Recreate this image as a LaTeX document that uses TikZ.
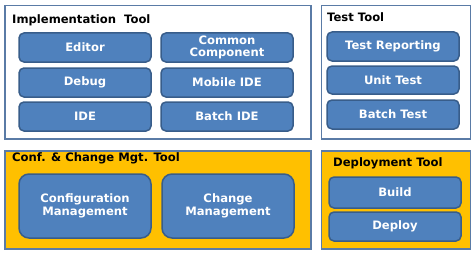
\documentclass[tikz,border=0pt]{standalone}
\usepackage{fontspec}
\setmainfont{DejaVu Sans}
\usetikzlibrary{positioning}
\definecolor{toolblue}{HTML}{4F81BD}
\definecolor{toolline}{HTML}{385D8A}
\definecolor{framebd}{HTML}{5A7BA6}
\definecolor{mgtyellow}{HTML}{FFC000}
\begin{document}
\begin{tikzpicture}[
    x=1pt, y=-1pt,
    node distance=5pt and 10pt,
    toolframe/.style={draw=framebd, line width=1.5pt, anchor=north west, inner sep=0pt},
    frametitle/.style={anchor=west, inner sep=0pt, font=\bfseries\fontsize{11.6}{12}\selectfont},
    toolbox/.style={draw=toolline, fill=toolblue, line width=1.5pt, rounded corners=5pt, text=white, align=center, inner sep=0pt, outer sep=0pt, minimum width=132pt, minimum height=29pt, font=\bfseries\fontsize{11.6}{12.5}\selectfont}
]
\useasboundingbox (0,0) rectangle (473,254);
% frames
\node[toolframe, minimum width=306pt, minimum height=133pt] (impl) at (4,5) {};
\node[toolframe, minimum width=149pt, minimum height=133pt] (test) at (320.5,5) {};
\node[toolframe, fill=mgtyellow, minimum width=306pt, minimum height=98pt] (conf) at (4,150) {};
\node[toolframe, fill=mgtyellow, minimum width=149pt, minimum height=98pt] (deploy) at (320.5,150) {};
\node[frametitle] (impltitle) at (12,20) {Implementation\ \ Tool};
\node[frametitle] (testtitle) at (327,17) {Test Tool};
\node[frametitle] (conftitle) at (12,158) {Conf. \& Change Mgt. Tool};
\node[frametitle] (deploytitle) at (333,163) {Deployment Tool};
% implementation
\node[toolbox, anchor=north west] (editor) at (19,33) {Editor};
\node[toolbox, right=of editor] (common) {Common\\Component};
\node[toolbox, below=6pt of editor] (debug) {Debug};
\node[toolbox, below=of debug] (ide) {IDE};
\node[toolbox, below=6pt of common] (mobile) {Mobile IDE};
\node[toolbox, below=of mobile] (batch) {Batch IDE};
% test
\node[toolbox, anchor=north west] (report) at (327,32) {Test Reporting};
\node[toolbox, below=of report, minimum height=28pt] (unit) {Unit Test};
\node[toolbox, below=6pt of unit] (batchtest) {Batch Test};
% conf & change
\node[toolbox, anchor=north west, minimum height=64pt, rounded corners=10pt] (config) at (19,174) {Configuration\\Management};
\node[toolbox, right=11pt of config, minimum height=64pt, rounded corners=10pt] (change) {Change\\Management};
% deployment
\node[toolbox, anchor=north west, minimum height=31pt] (build) at (329,177) {Build};
\node[toolbox, below=4pt of build] (deploybox) {Deploy};
\end{tikzpicture}
\end{document}
